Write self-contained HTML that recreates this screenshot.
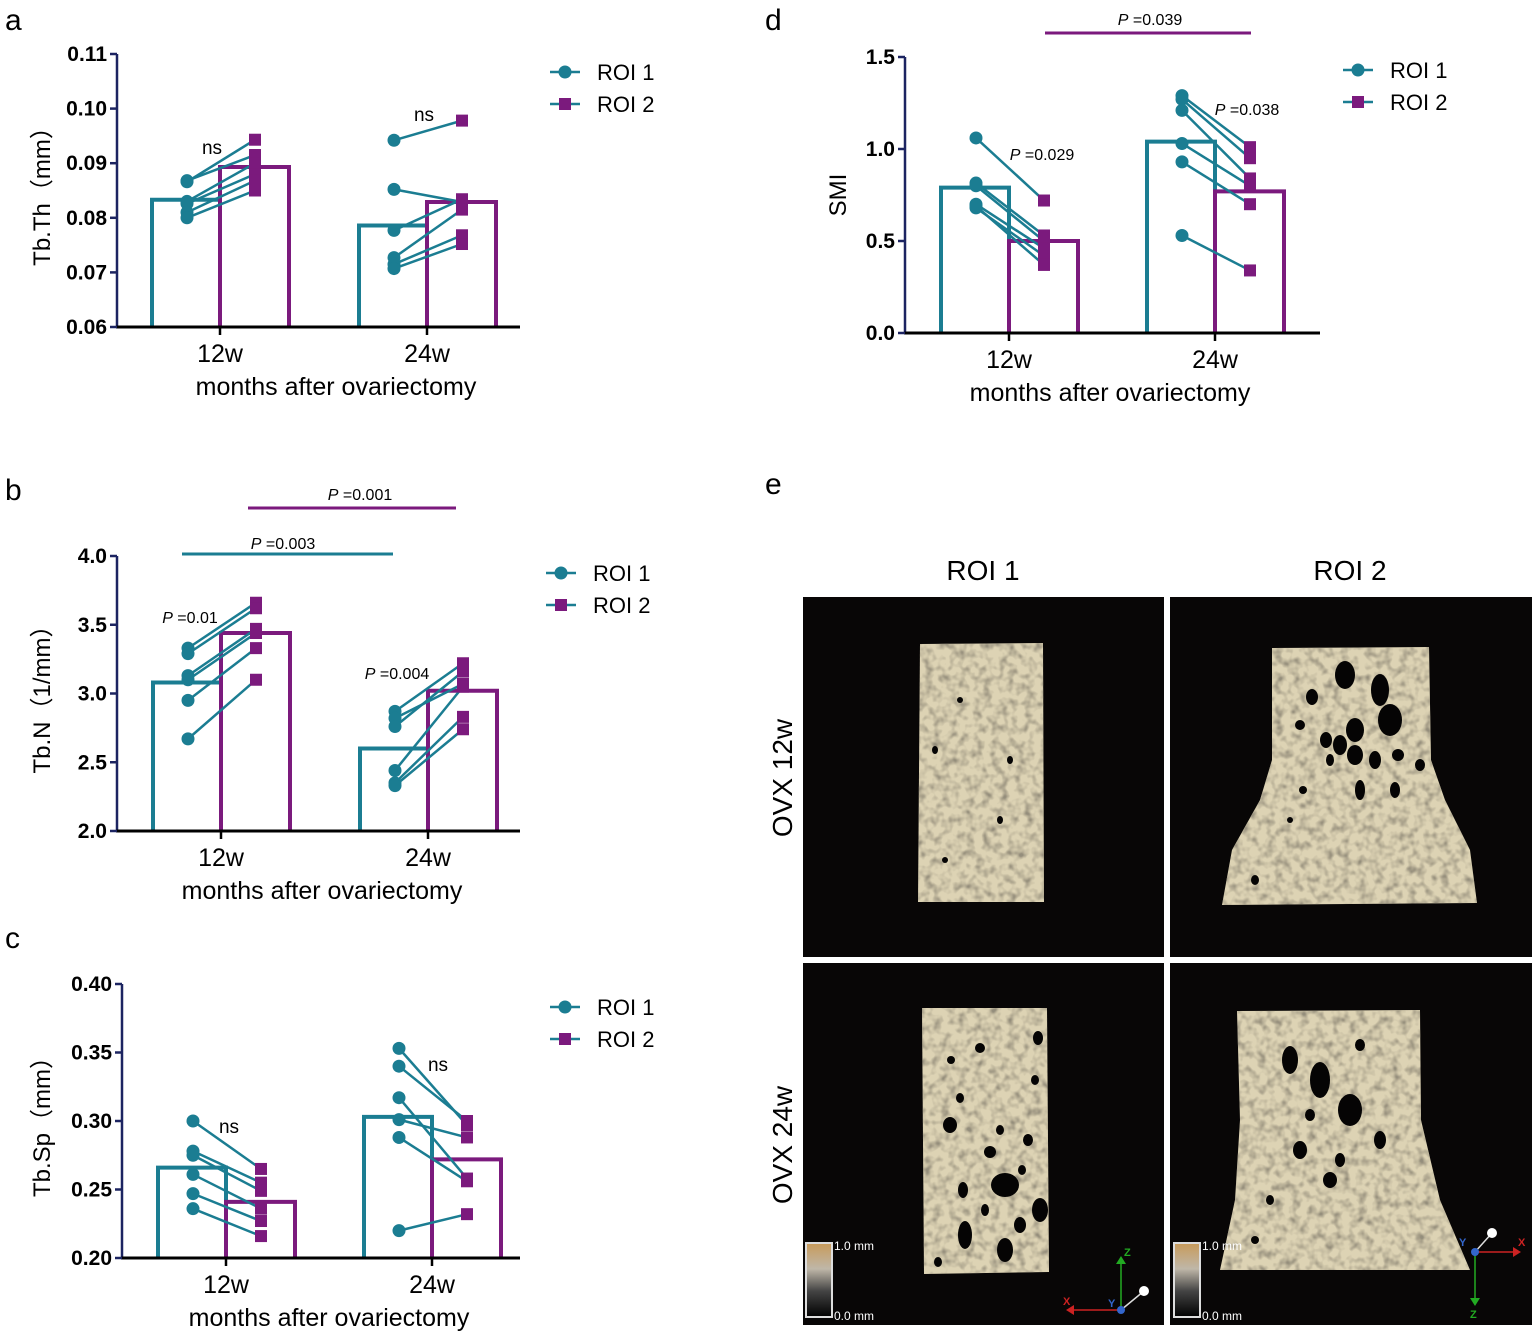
<!DOCTYPE html>
<html><head><meta charset="utf-8">
<style>
html,body{margin:0;padding:0;background:#fff;}
svg{display:block;font-family:"Liberation Sans",Arial,sans-serif;}
</style></head>
<body>
<svg id="fig" width="1535" height="1338" viewBox="0 0 1535 1338" xmlns="http://www.w3.org/2000/svg">
<defs>
<linearGradient id="scaleGrad" x1="0" y1="0" x2="0" y2="1">
<stop offset="0" stop-color="#c89a5a"/><stop offset="0.35" stop-color="#bfb7a8"/><stop offset="0.65" stop-color="#444"/><stop offset="1" stop-color="#000"/>
</linearGradient>
<filter id="tex" x="0" y="0" width="1" height="1">
<feTurbulence type="fractalNoise" baseFrequency="0.12" numOctaves="2" seed="3" result="n"/>
<feColorMatrix in="n" type="matrix" values="0 0 0 0 0.3  0 0 0 0 0.27  0 0 0 0 0.2  0 0 0 2.4 -1.0" result="m"/>
<feComposite in="m" in2="SourceGraphic" operator="in" result="c"/>
<feMerge><feMergeNode in="SourceGraphic"/><feMergeNode in="c"/></feMerge>
</filter>
</defs>
<g id="charts"></g>
<g id="panelE">
<text x="765" y="494" font-size="30">e</text>
<text x="983" y="580" font-size="28" text-anchor="middle">ROI 1</text>
<text x="1350" y="580" font-size="28" text-anchor="middle">ROI 2</text>
<text transform="translate(792,778) rotate(-90)" font-size="28" text-anchor="middle">OVX 12w</text>
<text transform="translate(792,1145) rotate(-90)" font-size="28" text-anchor="middle">OVX 24w</text>
<rect x="803" y="597" width="361" height="360" fill="#080606"/>
<rect x="1170" y="597" width="362" height="360" fill="#080606"/>
<rect x="803" y="963" width="361" height="362" fill="#080606"/>
<rect x="1170" y="963" width="362" height="362" fill="#080606"/>
<polygon points="920,644 1043,643 1044,902 918,902" fill="#ddd3b4" filter="url(#tex)"/>
<polygon points="1272,648 1429,647 1431,760 1445,800 1470,850 1477,903 1222,905 1232,850 1260,800 1272,760" fill="#ddd3b4" filter="url(#tex)"/>
<polygon points="922,1008 1047,1008 1049,1272 924,1274" fill="#ddd3b4" filter="url(#tex)"/>
<polygon points="1237,1011 1420,1010 1421,1120 1440,1200 1470,1270 1220,1270 1235,1200 1240,1120" fill="#ddd3b4" filter="url(#tex)"/>
<g fill="#050404">
<ellipse cx="1345" cy="675" rx="10" ry="14"/><ellipse cx="1380" cy="690" rx="9" ry="16"/><ellipse cx="1390" cy="720" rx="12" ry="16"/>
<ellipse cx="1355" cy="730" rx="9" ry="12"/><ellipse cx="1340" cy="745" rx="7" ry="10"/><ellipse cx="1355" cy="755" rx="8" ry="10"/>
<ellipse cx="1326" cy="740" rx="6" ry="8"/><ellipse cx="1312" cy="697" rx="6" ry="8"/><ellipse cx="1360" cy="790" rx="5" ry="10"/>
<ellipse cx="1395" cy="790" rx="5" ry="8"/><ellipse cx="1420" cy="765" rx="5" ry="6"/><ellipse cx="1303" cy="790" rx="4" ry="4"/>
<ellipse cx="1330" cy="760" rx="4" ry="6"/><ellipse cx="1375" cy="760" rx="6" ry="9"/><ellipse cx="1398" cy="755" rx="6" ry="6"/>
<ellipse cx="1300" cy="725" rx="5" ry="5"/><ellipse cx="1255" cy="880" rx="4" ry="5"/><ellipse cx="1290" cy="820" rx="3" ry="3"/>
<ellipse cx="951" cy="1060" rx="4" ry="4"/><ellipse cx="980" cy="1048" rx="5" ry="5"/><ellipse cx="1038" cy="1038" rx="5" ry="7"/>
<ellipse cx="950" cy="1125" rx="7" ry="8"/><ellipse cx="990" cy="1152" rx="6" ry="6"/><ellipse cx="1005" cy="1185" rx="14" ry="12"/>
<ellipse cx="963" cy="1190" rx="5" ry="8"/><ellipse cx="1040" cy="1210" rx="8" ry="12"/><ellipse cx="965" cy="1235" rx="7" ry="14"/>
<ellipse cx="1005" cy="1250" rx="8" ry="12"/><ellipse cx="1020" cy="1225" rx="6" ry="8"/><ellipse cx="1028" cy="1140" rx="5" ry="6"/>
<ellipse cx="938" cy="1262" rx="4" ry="5"/><ellipse cx="1022" cy="1170" rx="4" ry="5"/><ellipse cx="960" cy="1098" rx="4" ry="5"/>
<ellipse cx="1000" cy="1130" rx="4" ry="5"/><ellipse cx="985" cy="1210" rx="4" ry="6"/><ellipse cx="1035" cy="1080" rx="4" ry="5"/>
<ellipse cx="1290" cy="1060" rx="8" ry="14"/><ellipse cx="1320" cy="1080" rx="10" ry="18"/><ellipse cx="1350" cy="1110" rx="12" ry="16"/>
<ellipse cx="1300" cy="1150" rx="7" ry="9"/><ellipse cx="1380" cy="1140" rx="6" ry="9"/><ellipse cx="1330" cy="1180" rx="7" ry="8"/>
<ellipse cx="1270" cy="1200" rx="4" ry="5"/><ellipse cx="1255" cy="1240" rx="4" ry="4"/><ellipse cx="1360" cy="1045" rx="5" ry="6"/>
<ellipse cx="1340" cy="1160" rx="5" ry="7"/><ellipse cx="1310" cy="1115" rx="5" ry="6"/>
<ellipse cx="935" cy="750" rx="3" ry="4"/><ellipse cx="1000" cy="820" rx="3" ry="4"/><ellipse cx="960" cy="700" rx="3" ry="3"/>
<ellipse cx="1010" cy="760" rx="3" ry="4"/><ellipse cx="945" cy="860" rx="3" ry="3"/>
</g>
<g>
<rect x="806" y="1243" width="26" height="74" fill="url(#scaleGrad)" stroke="#ddd" stroke-width="2"/>
<text x="834" y="1250" font-size="12" fill="#fff">1.0 mm</text><text x="834" y="1320" font-size="12" fill="#fff">0.0 mm</text>
</g>
<g>
<rect x="1174" y="1243" width="26" height="74" fill="url(#scaleGrad)" stroke="#ddd" stroke-width="2"/>
<text x="1202" y="1250" font-size="12" fill="#fff">1.0 mm</text><text x="1202" y="1320" font-size="12" fill="#fff">0.0 mm</text>
</g>
<g font-size="11" font-weight="bold">
<line x1="1121" y1="1310" x2="1121" y2="1262" stroke="#2a2" stroke-width="1.5"/><polygon points="1116,1264 1126,1264 1121,1256" fill="#2a2"/>
<line x1="1121" y1="1310" x2="1072" y2="1310" stroke="#c22" stroke-width="1.5"/><polygon points="1074,1305 1074,1315 1066,1310" fill="#c22"/>
<line x1="1121" y1="1310" x2="1144" y2="1291" stroke="#ddd" stroke-width="1.5"/><circle cx="1144" cy="1291" r="5" fill="#fff"/>
<circle cx="1121" cy="1310" r="4" fill="#36c"/>
<text x="1124" y="1256" fill="#2a2">Z</text><text x="1063" y="1305" fill="#c22">X</text><text x="1108" y="1307" fill="#36c">Y</text>
</g>
<g font-size="11" font-weight="bold">
<line x1="1475" y1="1252" x2="1475" y2="1300" stroke="#2a2" stroke-width="1.5"/><polygon points="1470,1298 1480,1298 1475,1306" fill="#2a2"/>
<line x1="1475" y1="1252" x2="1515" y2="1252" stroke="#c22" stroke-width="1.5"/><polygon points="1513,1247 1513,1257 1521,1252" fill="#c22"/>
<line x1="1475" y1="1252" x2="1492" y2="1233" stroke="#ddd" stroke-width="1.5"/><circle cx="1492" cy="1233" r="5" fill="#fff"/>
<circle cx="1475" cy="1252" r="4" fill="#36c"/>
<text x="1470" y="1318" fill="#2a2">Z</text><text x="1518" y="1246" fill="#c22">X</text><text x="1459" y="1246" fill="#36c">Y</text>
</g>
</g>
</svg>
<script>
// ---------- data ----------
var groups = ["12w", "24w"];
// Panel a: Tb.Th (mm)
var aTicks = ["0.06","0.07","0.08","0.09","0.10","0.11"];
var aBar1 = [0.0833, 0.0786];
var aBar2 = [0.0893, 0.0829];
var aRoi1_12 = [0.0866, 0.0868, 0.0830, 0.0826, 0.0810, 0.0800];
var aRoi2_12 = [0.0943, 0.0915, 0.0900, 0.0880, 0.0868, 0.0850];
var aRoi1_24 = [0.0942, 0.0852, 0.0777, 0.0727, 0.0715, 0.0707];
var aRoi2_24 = [0.0978, 0.0829, 0.0834, 0.0815, 0.0768, 0.0752];
// Panel b: Tb.N (1/mm)
var bTicks = ["2.0","2.5","3.0","3.5","4.0"];
var bBar1 = [3.08, 2.60];
var bBar2 = [3.44, 3.02];
var bRoi1_12 = [3.33, 3.29, 3.13, 3.10, 2.95, 2.67];
var bRoi2_12 = [3.66, 3.62, 3.47, 3.44, 3.33, 3.10];
var bRoi1_24 = [2.87, 2.82, 2.76, 2.44, 2.35, 2.33];
var bRoi2_24 = [3.22, 3.07, 3.16, 3.05, 2.83, 2.74];
// Panel c: Tb.Sp (mm)
var cTicks = ["0.20","0.25","0.30","0.35","0.40"];
var cBar1 = [0.266, 0.303];
var cBar2 = [0.241, 0.272];
var cRoi1_12 = [0.300, 0.278, 0.275, 0.261, 0.247, 0.236];
var cRoi2_12 = [0.265, 0.255, 0.249, 0.236, 0.227, 0.216];
var cRoi1_24 = [0.353, 0.340, 0.317, 0.301, 0.288, 0.220];
var cRoi2_24 = [0.297, 0.300, 0.258, 0.288, 0.256, 0.232];
// Panel d: SMI
var dTicks = ["0.0","0.5","1.0","1.5"];
var dBar1 = [0.79, 1.04];
var dBar2 = [0.50, 0.77];
var dRoi1_12 = [1.06, 0.815, 0.80, 0.70, 0.68, 0.69];
var dRoi2_12 = [0.72, 0.53, 0.50, 0.46, 0.42, 0.37];
var dRoi1_24 = [1.29, 1.27, 1.21, 1.03, 0.93, 0.53];
var dRoi2_24 = [1.01, 0.95, 0.84, 0.80, 0.70, 0.34];

var TEAL = "#1b7d92", PURPLE = "#7b1a7d", NAVY = "#1c2461";
var NS = "http://www.w3.org/2000/svg";
var root = document.getElementById("charts");
function mk(tag, attrs, parent, txt){
  var e = document.createElementNS(NS, tag);
  for (var k in attrs) e.setAttribute(k, attrs[k]);
  if (txt !== undefined) e.textContent = txt;
  (parent || root).appendChild(e);
  return e;
}

function drawChart(cfg, ticks, bar1, bar2, roi1, roi2){
  var g = mk("g", {});
  
  
  var mn = parseFloat(ticks[0]), mx = parseFloat(ticks[ticks.length-1]);
  function y(v){ return cfg.y0 - (v - mn) / (mx - mn) * (cfg.y0 - cfg.yTop); }
  function cx(i){ return cfg.x12 + i * cfg.gap; }
  var pl = mk("text", {x: cfg.letterX, y: cfg.letterY, "font-size": 30}, g, cfg.letter);
  
  
  for (var i = 0; i < groups.length; i++){
    var c = cx(i);
    var b1 = mk("path", {d: "M"+(c-68)+","+cfg.y0+"V"+y(bar1[i])+"H"+c+"V"+cfg.y0, fill:"none", stroke:TEAL, "stroke-width":4}, g);
    
    
    var b2 = mk("path", {d: "M"+c+","+cfg.y0+"V"+y(bar2[i])+"H"+(c+69)+"V"+cfg.y0, fill:"none", stroke:PURPLE, "stroke-width":4}, g);
    
    
  }
  var ya = mk("line", {x1:cfg.ax, y1:cfg.yTop, x2:cfg.ax, y2:cfg.y0, stroke:NAVY, "stroke-width":2.5}, g);
  
  
  var xa = mk("line", {x1:cfg.ax-1, y1:cfg.y0, x2:cfg.xEnd, y2:cfg.y0, stroke:"#000", "stroke-width":3}, g);
  
  
  for (var t = 0; t < ticks.length; t++){
    var v = parseFloat(ticks[t]);
    mk("line", {x1:cfg.ax-7, y1:y(v), x2:cfg.ax, y2:y(v), stroke:NAVY, "stroke-width":2.5}, g);
    var tl = mk("text", {x:cfg.ax-10, y:y(v)+7, "font-size":21, "font-weight":"bold", "text-anchor":"end"}, g, ticks[t]);
    
    
  }
  for (var i2 = 0; i2 < groups.length; i2++){
    mk("line", {x1:cx(i2), y1:cfg.y0, x2:cx(i2), y2:cfg.y0+8, stroke:"#000", "stroke-width":2.5}, g);
    var xl = mk("text", {x:cx(i2), y:cfg.y0+35, "font-size":25, "text-anchor":"middle"}, g, groups[i2]);
    
    
  }
  var xt = mk("text", {x:cfg.xTitleX, y:cfg.y0+68, "font-size":25, "text-anchor":"middle"}, g, "months after ovariectomy");
  
  
  var yt = mk("text", {transform:"translate("+cfg.yTitleX+","+((cfg.yTop+cfg.y0)/2)+") rotate(-90)", "font-size":24, "text-anchor":"middle"}, g, cfg.yTitle);
  
  
  for (var gi = 0; gi < groups.length; gi++){
    var r1 = roi1[gi], r2 = roi2[gi], c0 = cx(gi);
    for (var k = 0; k < r1.length; k++){
      var ln = mk("line", {x1:c0-33, y1:y(r1[k]), x2:c0+35, y2:y(r2[k]), stroke:TEAL, "stroke-width":2.5}, g);
      
      
    }
    for (var k2 = 0; k2 < r2.length; k2++){
      var sq = mk("rect", {x:c0+29, y:y(r2[k2])-6, width:12, height:12, fill:PURPLE}, g);
      
      
    }
    for (var k3 = 0; k3 < r1.length; k3++){
      var dt = mk("circle", {cx:c0-33, cy:y(r1[k3]), r:6.5, fill:TEAL}, g);
      
      
    }
  }
  cfg.notes.forEach(function(n){
    var tx = mk("text", {x:n[0], y:n[1], "font-size":16, "text-anchor":"middle"}, g);
    if (n[2] === "ns") { tx.setAttribute("font-size", 19); tx.textContent = "ns"; }
    else { mk("tspan", {"font-style":"italic"}, tx, "P"); mk("tspan", {}, tx, " =" + n[2]); }
    
    
  });
  (cfg.bars || []).forEach(function(b){
    var sl = mk("line", {x1:b[0], y1:b[2], x2:b[1], y2:b[2], stroke:b[3], "stroke-width":3}, g);
    
    
  });
  var lg = mk("g", {}, g);
  
  
  var e1 = mk("g", {}, lg);
  
  
  mk("line", {x1:cfg.legX, y1:cfg.legY, x2:cfg.legX+30, y2:cfg.legY, stroke:TEAL, "stroke-width":2.5}, e1);
  mk("circle", {cx:cfg.legX+15, cy:cfg.legY, r:6.5, fill:TEAL}, e1);
  mk("text", {x:cfg.legX+47, y:cfg.legY+8, "font-size":22}, e1, "ROI 1");
  var e2 = mk("g", {}, lg);
  
  
  mk("line", {x1:cfg.legX, y1:cfg.legY+32, x2:cfg.legX+30, y2:cfg.legY+32, stroke:TEAL, "stroke-width":2.5}, e2);
  mk("rect", {x:cfg.legX+9, y:cfg.legY+26, width:12, height:12, fill:PURPLE}, e2);
  mk("text", {x:cfg.legX+47, y:cfg.legY+40, "font-size":22}, e2, "ROI 2");
}

drawChart({name:"chart-tb-th", letter:"a", letterX:5, letterY:30, ax:117, yTop:54, y0:327, x12:220, gap:207, xEnd:520,
  xTitleX:336, yTitleX:50, yTitle:"Tb.Th（mm）", legX:550, legY:72,
  notes:[[212,154,"ns"],[424,121,"ns"]]},
  aTicks, aBar1, aBar2, [aRoi1_12, aRoi1_24], [aRoi2_12, aRoi2_24]);

drawChart({name:"chart-tb-n", letter:"b", letterX:5, letterY:500, ax:117, yTop:556, y0:831, x12:221, gap:207, xEnd:520,
  xTitleX:322, yTitleX:50, yTitle:"Tb.N（1/mm）", legX:546, legY:573,
  notes:[[283,549,"0.003"],[360,500,"0.001"],[190,623,"0.01"],[397,679,"0.004"]],
  bars:[[182,393,554,TEAL],[248,456,508,PURPLE]]},
  bTicks, bBar1, bBar2, [bRoi1_12, bRoi1_24], [bRoi2_12, bRoi2_24]);

drawChart({name:"chart-tb-sp", letter:"c", letterX:5, letterY:948, ax:122, yTop:984, y0:1258, x12:226, gap:206, xEnd:520,
  xTitleX:329, yTitleX:50, yTitle:"Tb.Sp（mm）", legX:550, legY:1007,
  notes:[[229,1133,"ns"],[438,1071,"ns"]]},
  cTicks, cBar1, cBar2, [cRoi1_12, cRoi1_24], [cRoi2_12, cRoi2_24]);

drawChart({name:"chart-smi", letter:"d", letterX:765, letterY:30, ax:905, yTop:57, y0:333, x12:1009, gap:206, xEnd:1320,
  xTitleX:1110, yTitleX:846, yTitle:"SMI", legX:1343, legY:70,
  notes:[[1150,25,"0.039"],[1042,160,"0.029"],[1247,115,"0.038"]],
  bars:[[1045,1251,33,PURPLE]]},
  dTicks, dBar1, dBar2, [dRoi1_12, dRoi1_24], [dRoi2_12, dRoi2_24]);
</script>
</body></html>
